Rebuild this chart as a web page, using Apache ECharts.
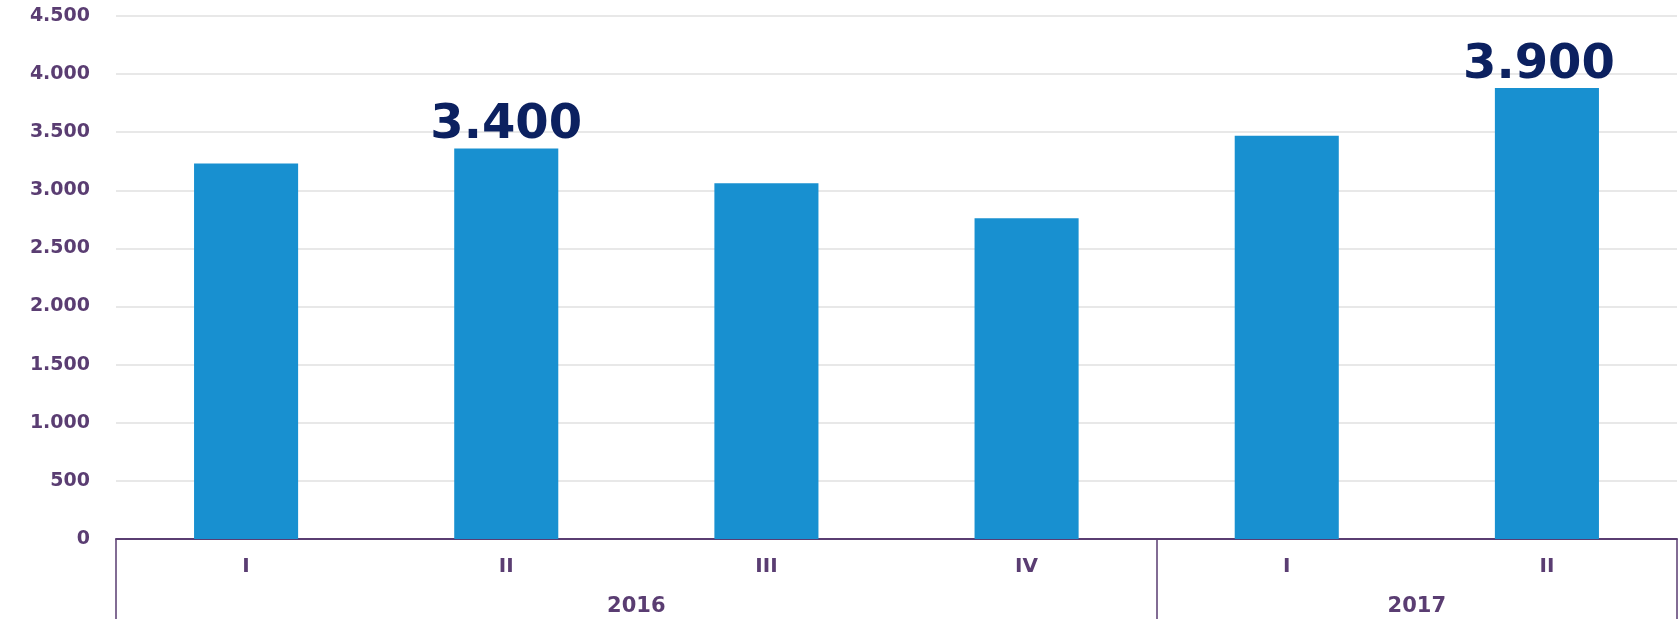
<!DOCTYPE html>
<html>
<head>
<meta charset="utf-8">
<script src="https://cdn.jsdelivr.net/npm/echarts@6/dist/echarts.min.js"></script>
<style>
  html, body { margin: 0; padding: 0; background: #fff; }
  #chart { width: 1680px; height: 619px; }
</style>
</head>
<body>
<div id="chart"></div>
<script>
// quarters and years
const quarters = ['I', 'II', 'III', 'IV', 'I', 'II'];
const years = ['2016', '2017'];
const yearCenters = [2, 5];      // middle of each year group on the 0..6 scale
const yearBounds = [0, 4, 6];    // group separators
const values = [3230, 3360, 3060, 2760, 3470, 3880];
const barLabels = ['', '3.400', '', '', '', '3.900'];
const yTicks = [0, 500, 1000, 1500, 2000, 2500, 3000, 3500, 4000, 4500];

const axisColor = '#5a3d72';

const chart = echarts.init(document.getElementById('chart'));

// the last label sits a bit left of its bar in the original
const seriesData = values.map((v, i) => {
  return i === 5 ? { value: v, label: { offset: [-8, 0] } } : v;
});

const option = {
  animation: false,
  grid: {
    left: 116,
    right: 3,
    top: 16,
    bottom: 80
  },
  xAxis: [
    {
      type: 'category',
      data: quarters,
      axisLine: { lineStyle: { color: axisColor, width: 2 } },
      axisTick: { show: false },
      axisLabel: {
        color: axisColor,
        fontFamily: 'DejaVu Sans',
        fontWeight: 'bold',
        fontSize: 20,
        margin: 18
      }
    },
    {
      type: 'value',
      min: 0,
      max: 6,
      position: 'bottom',
      splitLine: { show: false },
      axisLine: { show: false },
      axisTick: {
        show: true,
        customValues: yearBounds,
        length: 82,
        lineStyle: { color: axisColor, width: 1.5 }
      },
      axisLabel: {
        customValues: yearCenters,
        margin: 57,
        color: axisColor,
        fontFamily: 'DejaVu Sans',
        fontWeight: 'bold',
        fontSize: 21,
        formatter: function (v) {
          return years[yearCenters.indexOf(v)] || '';
        }
      }
    }
  ],
  yAxis: {
    type: 'value',
    min: 0,
    max: 4500,
    interval: 500,
    axisLine: { show: false },
    axisTick: { show: false },
    splitLine: { lineStyle: { color: '#e0e0e0', width: 1.5 } },
    axisLabel: {
      margin: 26,
      color: axisColor,
      fontFamily: 'DejaVu Sans',
      fontWeight: 'bold',
      fontSize: 19,
      formatter: function (v) {
        return yTicks.indexOf(v) >= 0 ? v.toLocaleString('de-DE') : '';
      }
    }
  },
  series: [
    {
      type: 'bar',
      xAxisIndex: 0,
      data: seriesData,
      barWidth: '40%',
      itemStyle: { color: '#1890d0' },
      label: {
        show: true,
        position: 'top',
        distance: -1,
        color: '#0c2160',
        fontFamily: 'DejaVu Sans',
        fontWeight: 'bold',
        fontSize: 48,
        formatter: function (p) {
          return barLabels[p.dataIndex];
        }
      }
    }
  ]
};

chart.setOption(option);
</script>
</body>
</html>
